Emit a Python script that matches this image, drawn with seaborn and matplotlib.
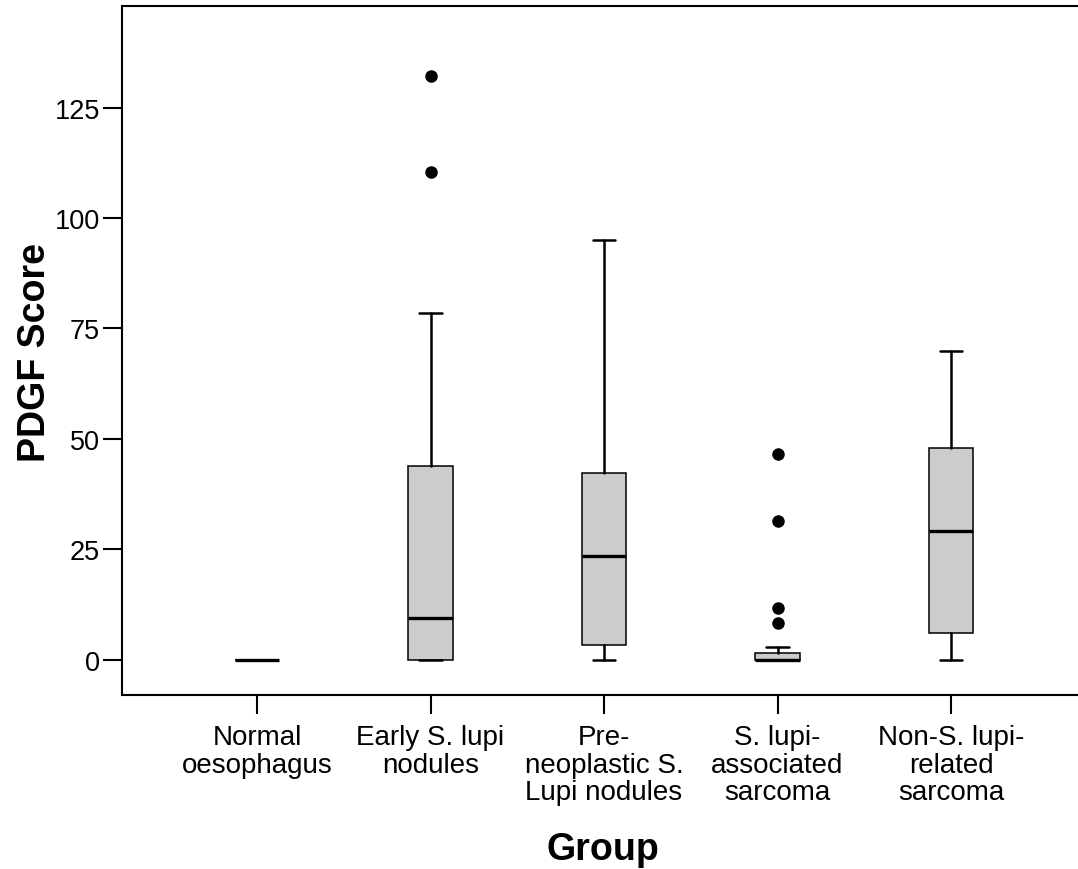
import matplotlib
matplotlib.use('Agg')
import matplotlib.pyplot as plt
import seaborn as sns

# ── data (box summary per group) ────────────────────────────────
groups = ["Normal\noesophagus", "Early S. lupi\nnodules",
          "Pre-\nneoplastic S.\nLupi nodules", "S. lupi-\nassociated\nsarcoma",
          "Non-S. lupi-\nrelated\nsarcoma"]
whis_lo = [0.0, 0.0, 0.0, 0.0, 0.0]
q1      = [0.0, 0.0, 3.3, 0.0, 6.0]
median  = [0.0, 9.4, 23.4, 0.0, 29.1]
q3      = [0.0, 43.8, 42.2, 1.4, 47.9]
whis_hi = [0.0, 78.5, 95.0, 2.9, 69.9]
outliers = [[], [110.4, 132.1], [], [8.2, 11.8, 31.3, 46.5], []]
y_ticks = [0, 25, 50, 75, 100, 125]

sns.set_theme(style="ticks")
plt.rcParams['font.family'] = ['Liberation Sans', 'DejaVu Sans']
plt.rcParams['text.color'] = 'black'
plt.rcParams['xtick.color'] = 'black'
plt.rcParams['ytick.color'] = 'black'
plt.rcParams['axes.labelcolor'] = 'black'

stats = []
for i, g in enumerate(groups):
    stats.append(dict(label=g, whislo=whis_lo[i], q1=q1[i], med=median[i],
                      q3=q3[i], whishi=whis_hi[i], fliers=outliers[i]))

fig = plt.figure(figsize=(10.78, 8.70), dpi=100)
ax = fig.add_axes([0.1132, 0.2, 0.8868, 0.792])

ax.bxp(stats, positions=range(len(groups)), widths=0.254, patch_artist=True,
       boxprops=dict(facecolor='#cccccc', edgecolor='black', linewidth=1.1),
       medianprops=dict(color='black', linewidth=2.4),
       whiskerprops=dict(color='black', linewidth=1.8),
       capprops=dict(color='black', linewidth=1.8),
       flierprops=dict(marker='o', markerfacecolor='black', markeredgecolor='black',
                       markersize=8))

ax.set_xlim(-0.778, 4.732)
ax.set_ylim(-8.0, 148.0)
ax.set_yticks(y_ticks)
ax.set_xticks(range(len(groups)))
ax.set_xticklabels(groups, fontsize=20, linespacing=1.07)
ax.tick_params(axis='y', labelsize=19.5, length=14, width=1.5, pad=2)
ax.tick_params(axis='x', length=14, width=1.5, pad=7)

for s in ['left', 'top', 'bottom']:
    ax.spines[s].set_linewidth(1.5)
    ax.spines[s].set_color('black')
sns.despine(ax=ax, top=False, right=True)

fig.text(603 / 1078, 1 - 850 / 870, "Group", fontsize=27, fontweight='bold',
         ha='center', va='center')
fig.text(35 / 1078, 1 - 353 / 870, "PDGF Score", fontsize=27, fontweight='bold',
         ha='center', va='center', rotation=90)

fig.savefig("out.png", dpi=100)
